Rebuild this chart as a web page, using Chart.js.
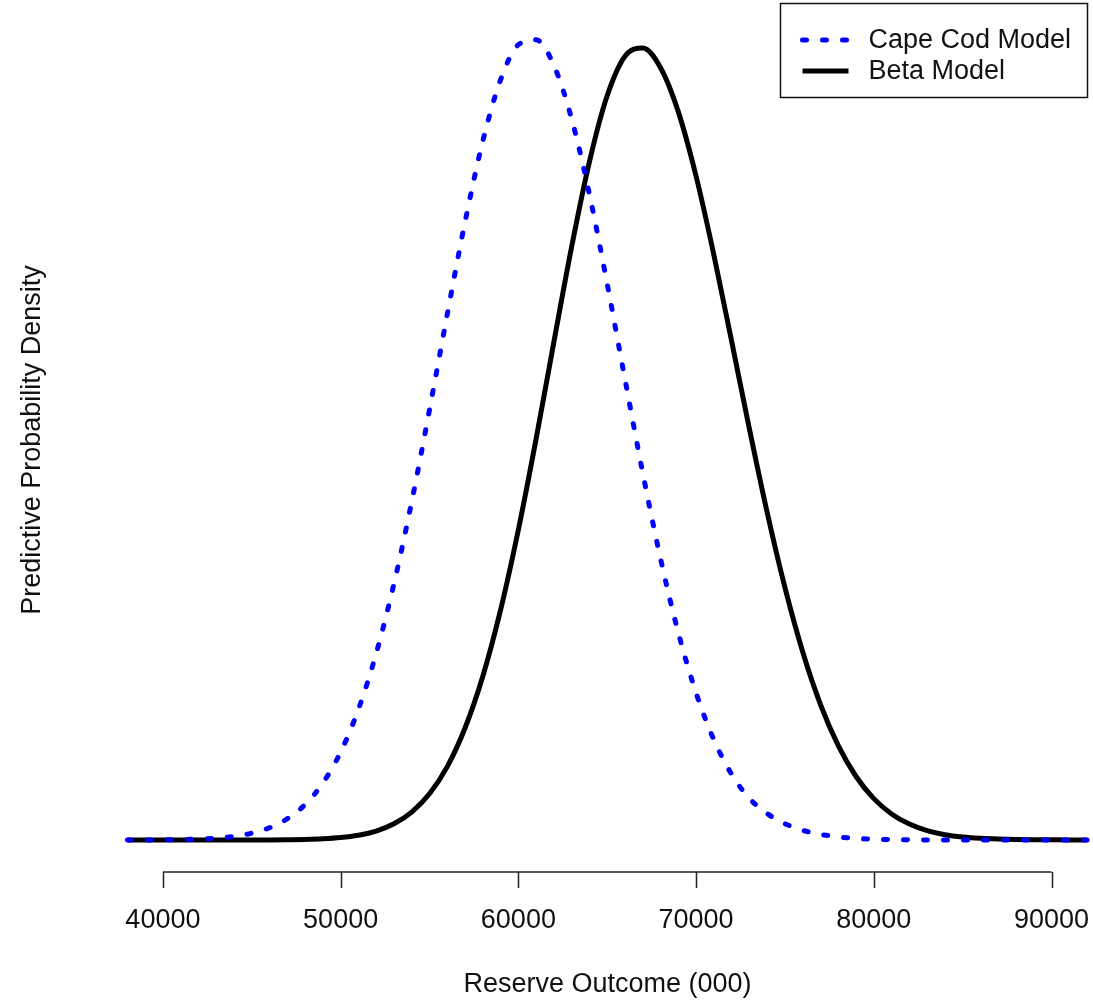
<!DOCTYPE html>
<html>
<head>
<meta charset="utf-8">
<script src="https://cdn.jsdelivr.net/npm/chart.js@4"></script>
<style>
    body { margin: 0; background: white; }
</style>
</head>
<body>
<canvas id="chart" width="1093" height="1001"></canvas>
<script>
// Reserve outcome grid (000)
const outcomes = [
    38000, 39000, 40000, 41000, 42000, 43000, 44000, 45000, 46000, 47000,
    48000, 49000, 50000, 51000, 52000, 53000, 54000, 55000, 56000, 57000,
    58000, 59000, 60000, 61000, 62000, 63000, 64000, 65000, 66000, 67000,
    68000, 69000, 70000, 71000, 72000, 73000, 74000, 75000, 76000, 77000,
    78000, 79000, 80000, 81000, 82000, 83000, 84000, 85000, 86000, 87000,
    88000, 89000, 90000, 91000, 92000
]

// Predictive densities (x 1e-5)
const capeCod = [
    0.0004, 0.0009, 0.002, 0.004, 0.009, 0.018, 0.035, 0.067, 0.120, 0.209,
    0.348, 0.559, 0.863, 1.282, 1.830, 2.514, 3.320, 4.221, 5.159, 6.065,
    6.858, 7.459, 7.804, 7.852, 7.600, 7.075, 6.335, 5.455, 4.520, 3.601,
    2.760, 2.034, 1.443, 0.983, 0.645, 0.407, 0.260, 0.160, 0.095, 0.055,
    0.030, 0.016, 0.008, 0.004, 0.002, 0.001, 0, 0, 0, 0,
    0, 0, 0, 0, 0
]
const beta = [
    0, 0, 0, 0, 0, 0, 0, 0.0005, 0.001, 0.003,
    0.006, 0.012, 0.024, 0.047, 0.088, 0.159, 0.274, 0.453, 0.720, 1.099,
    1.607, 2.258, 3.044, 3.937, 4.889, 5.824, 6.657, 7.305, 7.691, 7.772,
    7.578, 7.145, 6.513, 5.741, 4.893, 4.033, 3.213, 2.476, 1.845, 1.329,
    0.926, 0.623, 0.406, 0.256, 0.156, 0.092, 0.052, 0.029, 0.016, 0.009,
    0.005, 0.003, 0.002, 0.001, 0.001
]

const seriesNames = ['Cape Cod Model', 'Beta Model']
const xTicks = [40000, 50000, 60000, 70000, 80000, 90000]

const fontFamily = '"Liberation Sans", Arial, sans-serif'
const textColor = '#111'

function toPoints(values) {
    return values.map((v, i) => ({ x: outcomes[i], y: v }))
}

// R style axis: line only between first and last tick, set below the plot
const offsetAxis = {
    id: 'offsetAxis',
    afterDraw(chart) {
        const ctx = chart.ctx
        const xScale = chart.scales.x
        const y = chart.chartArea.bottom + 32
        ctx.save()
        ctx.strokeStyle = '#222'
        ctx.lineWidth = 1.5
        ctx.beginPath()
        ctx.moveTo(xScale.getPixelForValue(xTicks[0]), y)
        ctx.lineTo(xScale.getPixelForValue(xTicks[xTicks.length - 1]), y)
        xTicks.forEach(t => {
            let px = Math.round(xScale.getPixelForValue(t)) + 0.5
            ctx.moveTo(px, y)
            ctx.lineTo(px, y + 16)
        })
        ctx.stroke()
        ctx.restore()
    }
}

// Boxed legend in the top right corner
const boxLegend = {
    id: 'boxLegend',
    afterDraw(chart) {
        const ctx = chart.ctx
        const right = chart.chartArea.right
        const box = { left: right - 307.5, top: 3.5, width: 307, height: 94 }
        ctx.save()
        ctx.strokeStyle = '#111'
        ctx.lineWidth = 1.5
        ctx.strokeRect(box.left, box.top, box.width, box.height)

        chart.data.datasets.forEach((ds, i) => {
            let y = 40 + i * 31
            ctx.beginPath()
            ctx.strokeStyle = ds.borderColor
            ctx.lineWidth = ds.borderWidth
            ctx.lineCap = ds.borderCapStyle || 'butt'
            ctx.setLineDash(ds.borderDash || [])
            ctx.moveTo(box.left + 22, y)
            ctx.lineTo(box.left + 68, y)
            ctx.stroke()

            ctx.setLineDash([])
            ctx.fillStyle = textColor
            ctx.font = '27px ' + fontFamily
            ctx.textBaseline = 'middle'
            ctx.textAlign = 'left'
            ctx.fillText(ds.label, box.left + 88, y + 1)
        })
        ctx.restore()
    }
}

const ctx = document.querySelector('#chart').getContext('2d')

new Chart(ctx, {
    type: 'line',
    data: {
        datasets: [
            {
                label: seriesNames[0],
                data: toPoints(capeCod),
                borderColor: '#0000ff',
                borderWidth: 5,
                borderDash: [4, 16],
                borderCapStyle: 'round',
                pointRadius: 0,
                cubicInterpolationMode: 'monotone',
                clip: false,
            },
            {
                label: seriesNames[1],
                data: toPoints(beta),
                borderColor: '#000000',
                borderWidth: 5,
                pointRadius: 0,
                cubicInterpolationMode: 'monotone',
                clip: false,
            }
        ]
    },
    options: {
        responsive: false,
        animation: false,
        layout: { padding: { top: 40, right: 5, left: 0, bottom: 0 } },
        plugins: {
            legend: { display: false },
            tooltip: { enabled: false },
        },
        scales: {
            x: {
                type: 'linear',
                min: 37980,
                max: 92050,
                grid: { display: false },
                border: { display: false },
                afterBuildTicks(scale) {
                    scale.ticks = xTicks.map(v => ({ value: v }))
                },
                afterFit(scale) {
                    scale.height = 161
                    scale.paddingLeft = 0
                    scale.paddingRight = 0
                },
                ticks: {
                    padding: 56,
                    color: textColor,
                    font: { family: fontFamily, size: 27 },
                    maxRotation: 0,
                    callback: v => String(v),
                },
                title: {
                    display: true,
                    text: 'Reserve Outcome (000)',
                    color: textColor,
                    font: { family: fontFamily, size: 27 },
                    padding: { top: 0, bottom: 0 },
                },
            },
            y: {
                type: 'linear',
                min: 0,
                max: 7.85,
                grid: { display: false },
                border: { display: false },
                ticks: { display: false },
                afterFit(scale) {
                    scale.width = 127
                },
                title: {
                    display: true,
                    text: 'Predictive Probability Density',
                    color: textColor,
                    font: { family: fontFamily, size: 27 },
                    padding: { top: 16, bottom: 0 },
                },
            }
        }
    },
    plugins: [offsetAxis, boxLegend]
})
</script>
</body>
</html>
